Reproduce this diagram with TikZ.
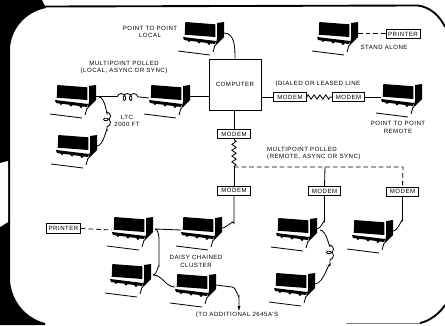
\documentclass[tikz,border=0pt]{standalone}
\usepackage{fontspec}
\setmainfont[LetterSpace=8]{Liberation Sans}
\usetikzlibrary{decorations.pathmorphing}
\tikzset{
  wire/.style={line width=0.7pt},
  dashwire/.style={line width=0.7pt, dash pattern=on 4pt off 2.5pt},
  coilwire/.style={line width=0.7pt, decorate, decoration={coil, aspect=0.75, segment length=5.4pt, amplitude=3pt}},
  zigwire/.style={line width=0.7pt, decorate, decoration={zigzag, segment length=5pt, amplitude=1.8pt}},
  labeltext/.style={font=\fontsize{5.2}{6}\selectfont, inner sep=0pt, align=center},
  boxtext/.style={draw, line width=0.7pt, fill=white, font=\fontsize{5.2}{6}\selectfont, inner sep=0pt},
  modembox/.style={boxtext, minimum width=0.98cm, minimum height=0.27cm},
  printerbox/.style={boxtext, minimum width=1.02cm, minimum height=0.28cm},
  terminal/.pic={
    \fill (-38.7,-11) -- (-8.7,-8.7) -- (-8.7,4) -- (-39.3,1.7) -- cycle;
    \fill (-7,-10) -- (0,-11) -- (0,4) -- (-9,13) -- (-7,6) -- cycle;
    \fill (-41,4) -- (-8,8) -- (-9,11) -- (-40,7) -- cycle;
    \foreach \bx/\by in {-35/7.5,-25/9,-15/10.5}
      \fill (\bx,\by) circle (1.7);
    \draw[wire] (-46,18) -- (-14,22);
    \draw[wire] (-9,12) -- (-11,19);
    \coordinate (-port) at (0,0);
    \coordinate (-left) at (-41,2);
  }
}
\begin{document}
\begin{tikzpicture}[x=0.03cm, y=-0.03cm]
  \useasboundingbox (0,0) rectangle (445,325);
  % frame of the photo
  \fill (0,0) -- (42,0) -- (46,8) .. controls (25,12) and (10,30) .. (10,50) -- (10,280)
        .. controls (11,300) and (25,318) .. (45,323) -- (45,325) -- (0,325) -- cycle;
  \fill[white] (0,163) -- (8,161) -- (8,222) -- (0,227) -- cycle;
  \draw[line width=1.6pt] (44,6.5) -- (418,5.5) .. controls (430,7) and (440,16) .. (445,27);
  \draw[line width=1.6pt] (420,323) .. controls (430,321) and (440,313) .. (445,305);
  \draw[line width=0.5pt, gray] (346,323.5) -- (420,323.5);

  % computer and modems
  \node[draw, line width=0.8pt, minimum width=1.56cm, minimum height=1.53cm, labeltext] (computer) at (235,84.5) {COMPUTER};
  \node[modembox] (mA) at (290,97) {MODEM};
  \node[modembox] (mB) at (348.5,97) {MODEM};
  \node[modembox] (mC) at (234,134) {MODEM};
  \node[modembox] (mD) at (234,190.5) {MODEM};
  \node[modembox] (mE) at (324.5,191) {MODEM};
  \node[modembox] (mF) at (402.5,191.5) {MODEM};
  \node[printerbox] (pA) at (403,34) {PRINTER};
  \node[printerbox] (pB) at (63.5,228.5) {PRINTER};

  % terminals
  \pic (tTop) at (224,33) {terminal};
  \pic (tAlone) at (358,33) {terminal};
  \pic (tLocalA) at (96,96) {terminal};
  \pic (tLocalB) at (190,96) {terminal};
  \pic (tLocalC) at (97,146) {terminal};
  \pic (tRemote) at (422,95) {terminal};
  \pic (tDaisyA) at (153,228) {terminal};
  \pic (tDaisyB) at (222,228) {terminal};
  \pic (tDaisyC) at (151,275) {terminal};
  \pic (tDaisyD) at (216,285) {terminal};
  \pic (tPollA) at (317,229) {terminal};
  \pic (tPollB) at (315,284) {terminal};
  \pic (tPollC) at (393,231) {terminal};

  % free ends and bends
  \coordinate (hA) at (117,97);
  \coordinate (hB) at (140,97);
  \coordinate (vA) at (107,112);
  \coordinate (vB) at (107,131);
  \coordinate (vC) at (330,245);
  \coordinate (vD) at (330,266);
  \coordinate (jA) at (234,167);
  \coordinate (jB) at (325,167);
  \coordinate (jC) at (403,167);
  \coordinate (zA) at (234,140);
  \coordinate (jD) at (155,229);
  \coordinate (jE) at (153,275);
  \coordinate (endA) at (239,310);

  % wires
  \draw[wire] (tLocalA-port) -- (hA |- tLocalA-port) to[out=0,in=180] (hA);
  \draw[coilwire] (hA) -- (hB);
  \draw[wire] (hB) to[out=0,in=180] (tLocalB-left);
  \draw[wire] (tLocalB-port) -- (computer.west |- tLocalB-port);
  \draw[wire] (tLocalA-port) ++(3,1) to[out=0,in=-90] (vA);
  \draw[coilwire] (vA) -- (vB);
  \draw[wire] (vB) to[out=90,in=0] (tLocalC-port);
  \draw[wire] (tTop-port) to[out=0,in=90] (computer.north);
  \draw[dashwire] (tAlone-port) -- (pA.west |- tAlone-port);
  \draw[wire] (computer.east |- mA) -- (mA.west);
  \draw[zigwire] (mA.east) -- (mB.west);
  \draw[wire] (mB.east) -- (tRemote-left);
  \draw[wire] (computer.south -| mC) -- (mC.north);
  \draw[wire] (mC.south) -- (zA);
  \draw[zigwire] (zA) -- (jA);
  \draw[wire] (jA) -- (mD.north);
  \draw[dashwire] (jA) -- (jC) -- (mF.north);
  \draw[wire] (jB) -- (mE.north);
  \draw[wire] (mD.south) -- ++(0,28) to[out=90,in=0] (tDaisyB-port);
  \draw[wire] (mE.south) -- ++(0,26) to[out=90,in=0] (tPollA-port);
  \draw[wire] (mF.south) -- ++(0,25) to[out=90,in=0] (tPollC-port);
  \draw[wire] (tPollA-port) ++(3,1) to[out=0,in=-90] (vC);
  \draw[coilwire] (vC) -- (vD);
  \draw[wire] (vD) to[out=90,in=0] (tPollB-port);
  \draw[dashwire] (pB.east) -- (tDaisyA-left);
  \draw[wire] (jD) -- (tDaisyB-left);
  \draw[wire] (jD) to[out=0,in=-90] (159,240) -- (159,266) to[out=90,in=0] (jE);
  \draw[wire] (jE) to[out=0,in=180] (tDaisyD-left);
  \draw[wire] (tDaisyD-port) -- (232,287) to[out=0,in=-90] (239,296) -- (endA);
  \fill (endA) ++(-1.5,-4) -- ++(3,0) -- (endA) -- cycle;

  % labels
  \node[labeltext] (lA) at (150,32) {POINT TO POINT\\[0.6pt]LOCAL};
  \node[labeltext] (lB) at (124,67.5) {MULTIPOINT POLLED\\[0.6pt](LOCAL, ASYNC OR SYNC)};
  \node[labeltext] (lC) at (127,121) {LTC\\[0.6pt]2000 FT};
  \node[labeltext] (lD) at (384,47) {STAND ALONE};
  \node[labeltext] (lE) at (318,84) {(DIALED OR LEASED LINE};
  \node[labeltext] (lF) at (398,127.5) {POINT TO POINT\\[0.6pt]REMOTE};
  \node[labeltext, align=left, anchor=west] (lG) at (267,153.5) {MULTIPOINT POLLED\\[0.6pt](REMOTE, ASYNC OR SYNC)};
  \node[labeltext] (lH) at (196,261.5) {DAISY CHAINED\\[0.6pt]CLUSTER};
  \node[labeltext] (lI) at (237,315) {(TO ADDITIONAL 2645A'S};
\end{tikzpicture}
\end{document}
